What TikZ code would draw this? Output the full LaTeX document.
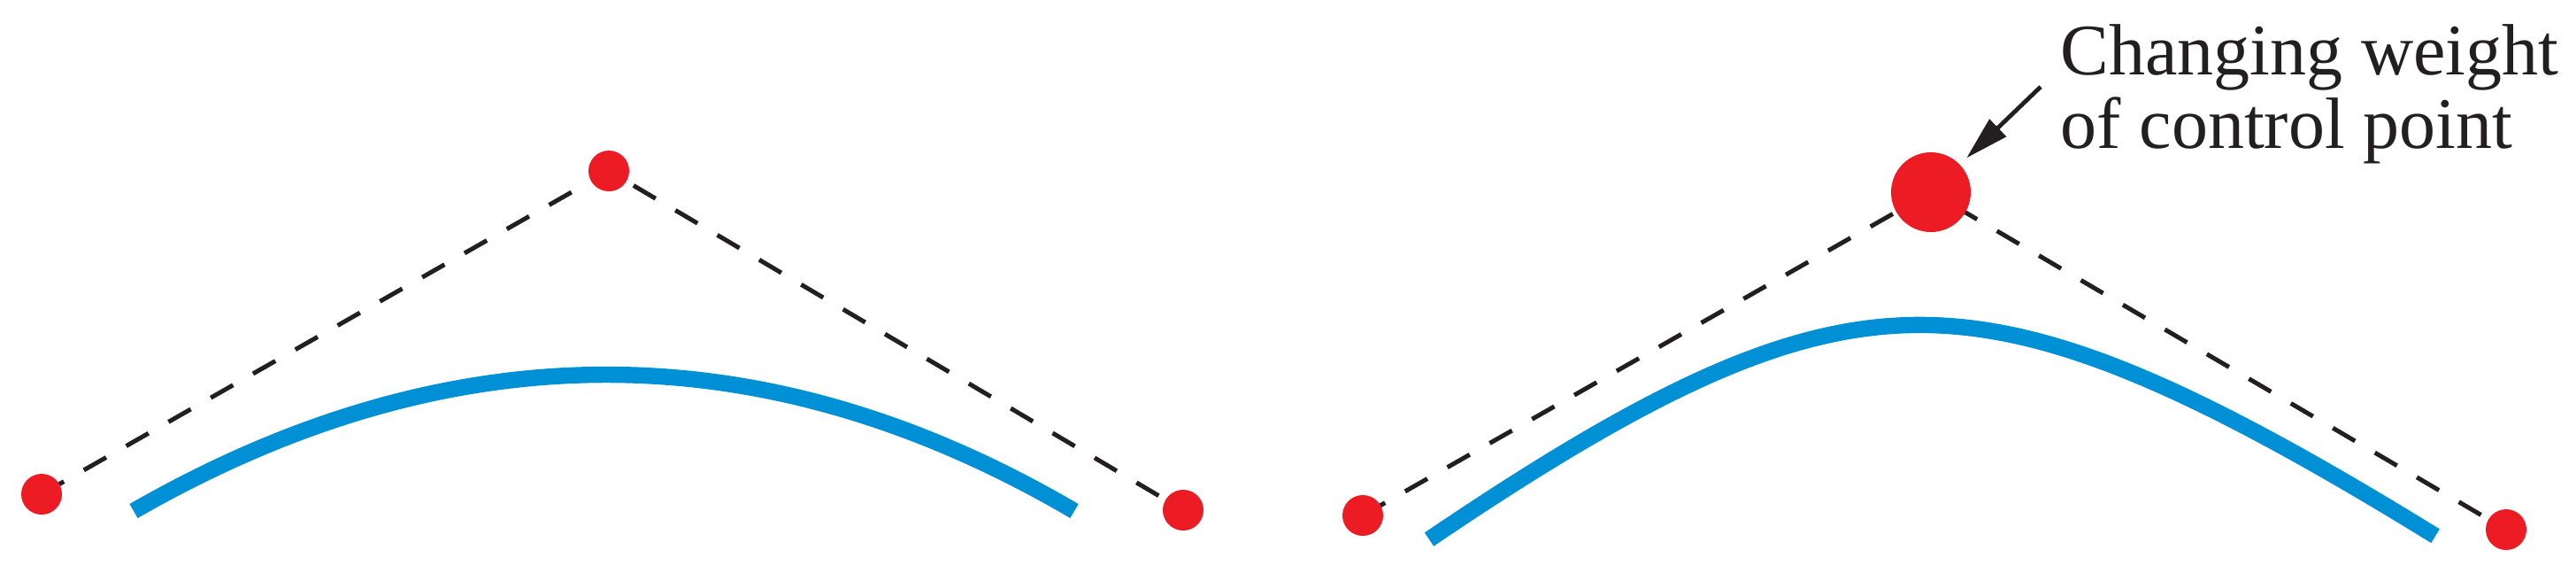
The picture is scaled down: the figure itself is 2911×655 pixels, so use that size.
\documentclass[tikz,border=0pt]{standalone}
\usepackage{fontspec}
\setmainfont{Liberation Serif}
\usetikzlibrary{arrows.meta}
\definecolor{dotred}{HTML}{ED1C24}
\definecolor{curveblue}{HTML}{0090D5}
\definecolor{dashblack}{HTML}{231F20}
\tikzset{
  ctrldot/.style={circle, fill=dotred, draw=none, inner sep=0pt, minimum size=46*0.25pt},
  bigdot/.style={circle, fill=dotred, draw=none, inner sep=0pt, minimum size=90*0.25pt},
  polyline/.style={draw=dashblack, line width=1.25pt, dash pattern=on 7.25pt off 6.5pt},
  bluecurve/.style={draw=curveblue, line width=4.6pt},
  pointer/.style={draw=dashblack, line width=1.2pt, -{Triangle[length=12.3pt,width=6.6pt]}, shorten >=2.5pt},
  labeltext/.style={font=\fontsize{20.5pt}{20.75pt}\selectfont, align=left, inner sep=0pt, text=dashblack}
}
\begin{document}
\begin{tikzpicture}[x=0.25pt,y=-0.25pt]
\useasboundingbox (0,0) rectangle (2911,655);
% control point positions
\coordinate (a1) at (47,558);
\coordinate (a2) at (688,193);
\coordinate (a3) at (1337,576);
\coordinate (b1) at (1540,582);
\coordinate (b2) at (2182,217);
\coordinate (b3) at (2832,598);
% dashed control polygons
\draw[polyline] (a1) -- (a2) -- (a3);
\draw[polyline] (b1) -- (b2) -- (b3);
% curves
\draw[bluecurve] (151,577) .. controls (509,371.7) and (863.3,371.7) .. (1214,577);
\draw[bluecurve] plot[domain=0:1, samples=120, variable=\t]
  ({((1-\t)*(1-\t)*1615 + 3.8*\t*(1-\t)*2160 + \t*\t*2755)/((1-\t)*(1-\t) + 3.8*\t*(1-\t) + \t*\t)},
   {((1-\t)*(1-\t)*609 + 3.8*\t*(1-\t)*240 + \t*\t*607)/((1-\t)*(1-\t) + 3.8*\t*(1-\t) + \t*\t)});
% control point dots
\node[ctrldot] (da1) at (a1) {};
\node[ctrldot] (da2) at (a2) {};
\node[ctrldot] (da3) at (a3) {};
\node[ctrldot] (db1) at (b1) {};
\node[bigdot]  (db2) at (b2) {};
\node[ctrldot] (db3) at (b3) {};
% label and arrow
\node[labeltext, anchor=north west] (lbl) at (2328,27) {Changing weight\\of control point};
\coordinate (tail) at (2306,98);
\draw[pointer] (tail) -- (db2);
\end{tikzpicture}
\end{document}
